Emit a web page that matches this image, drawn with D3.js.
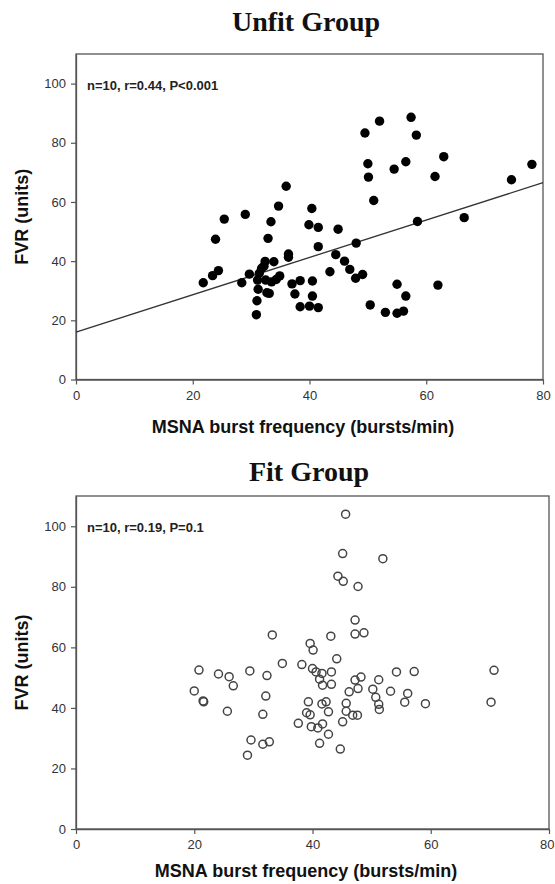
<!DOCTYPE html>
<html><head><meta charset="utf-8">
<script src="https://cdn.jsdelivr.net/npm/d3@7"></script>
<style>body{margin:0;background:#fff}svg{display:block}</style>
</head><body>
<script>
// ---- data ----
const unfitX = [49.5,52.0,57.4,58.3,50.0,50.1,54.5,56.5,63.0,61.5,51.0,74.6,78.1,40.4,39.9,41.5,44.9,58.5,66.5,41.5,48.0,36.0,34.7,29.0,25.4,33.4,23.9,32.9,21.8,23.4,24.4,28.4,29.7,30.9,31.0,32.4,33.9,36.4,36.4,37.0,38.4,37.5,38.4,31.8,31.4,32.2,32.5,33.5,34.3,34.9,31.1,31.2,32.7,33.1,44.5,46.0,46.9,43.5,47.9,49.1,40.5,40.5,40.0,41.5,50.4,53.0,55.0,56.5,55.0,56.1,62.0];
const unfitY = [83.3,87.3,88.6,82.6,72.9,68.4,71.1,73.6,75.3,68.6,60.5,67.5,72.7,57.8,52.3,51.4,50.8,53.4,54.7,44.9,46.1,65.3,58.6,55.8,54.2,53.3,47.4,47.7,32.7,35.1,36.8,32.7,35.6,21.9,26.6,39.9,39.8,42.4,41.3,32.3,33.4,28.9,24.6,37.6,35.9,38.3,33.6,33.0,33.8,35.0,33.6,30.5,29.3,29.1,42.2,40.0,37.2,36.4,34.2,35.5,33.3,28.2,24.8,24.3,25.2,22.7,32.2,28.2,22.4,23.1,31.9];
const unfitLineX = [0, 80];
const unfitLineY = [16.0, 66.5];

const fitX = [45.6,45.1,51.9,44.3,45.2,47.7,47.2,47.2,48.7,43.1,39.6,40.1,44.1,38.2,40.0,40.6,41.6,43.2,41.2,41.7,43.2,47.2,48.2,51.2,54.2,57.2,70.7,33.2,20.8,24.1,25.9,26.6,29.4,32.3,34.9,20.0,21.5,21.6,25.6,32.1,31.6,29.6,31.6,32.7,29.0,37.6,39.3,39.0,39.8,46.2,47.7,50.2,50.7,51.2,51.3,53.2,56.1,55.6,59.1,70.2,41.6,42.3,42.7,39.6,45.7,45.7,46.8,47.6,45.1,40.9,41.7,42.7,41.2,44.7];
const fitY = [104.0,91.0,89.3,83.5,81.8,80.1,69.0,64.4,64.8,63.7,61.3,59.1,56.2,54.3,53.0,51.9,51.4,51.9,49.5,47.5,47.8,49.2,50.2,49.3,51.9,52.0,52.4,64.1,52.5,51.2,50.3,47.3,52.2,50.7,54.7,45.6,42.3,42.0,38.9,43.9,37.9,29.4,28.0,28.8,24.4,34.9,42.0,38.4,33.8,45.3,46.4,46.2,43.5,41.2,39.5,45.5,44.8,41.9,41.4,41.9,41.3,42.0,38.7,37.7,41.5,38.9,37.6,37.6,35.4,33.4,34.7,31.3,28.3,26.4];

const xTicks = [0, 20, 40, 60, 80];
const yTicks = [0, 20, 40, 60, 80, 100];
const xDomain = [0, 80];
const yDomain = [0, 110];

const titles = ["Unfit Group", "Fit Group"];
const stats = ["n=10, r=0.44, P<0.001", "n=10, r=0.19, P=0.1"];
const xLabel = "MSNA burst frequency (bursts/min)";
const yLabel = "FVR (units)";

// ---- drawing ----
const svg = d3.select("body").append("svg").attr("width", 555).attr("height", 884);

function panel(cfg) {
  const x = d3.scaleLinear().domain(xDomain).range([cfg.left, cfg.right]);
  const y = d3.scaleLinear().domain(yDomain).range([cfg.bottom, cfg.top]);
  const g = svg.append("g");

  // title
  g.append("text").attr("x", cfg.titleX).attr("y", cfg.titleY)
    .attr("text-anchor", "middle")
    .style("font-family", "'Liberation Serif','Times New Roman',serif")
    .style("font-weight", "bold").style("font-size", "28px").attr("fill", "#111")
    .text(cfg.title);

  // frame
  g.append("rect").attr("x", cfg.left).attr("y", cfg.top)
    .attr("width", cfg.right - cfg.left).attr("height", cfg.bottom - cfg.top)
    .attr("fill", "none").attr("stroke", "#555").attr("stroke-width", 1.3);

  const axisStyle = sel => {
    sel.selectAll("path").attr("stroke", "#555").attr("stroke-width", 1.3);
    sel.selectAll("line").attr("stroke", "#555").attr("stroke-width", 1.2);
    sel.selectAll("text").style("font-family", "'Liberation Sans',Arial,sans-serif")
      .style("font-size", "13px").attr("fill", "#333");
  };
  const xa = g.append("g").attr("transform", `translate(0,${cfg.bottom})`)
    .call(d3.axisBottom(x).tickValues(xTicks).tickSize(5).tickPadding(6).tickSizeOuter(0))
    .call(axisStyle);
  // keep the last tick label inside the window
  xa.selectAll(".tick text").filter((d, i, n) => i === n.length - 1 && x(d) + 8 > 555)
    .attr("dx", 555 - 1 - (x(xDomain[1]) + 7.3));
  g.append("g").attr("transform", `translate(${cfg.left},0)`)
    .call(d3.axisLeft(y).tickValues(yTicks).tickSize(5).tickPadding(5).tickSizeOuter(0))
    .call(axisStyle);

  // axis labels
  g.append("text").attr("x", cfg.xLabelX).attr("y", cfg.xLabelY).attr("text-anchor", "middle")
    .style("font-family", "'Liberation Sans',Arial,sans-serif").style("font-weight", "bold")
    .style("font-size", "18px").attr("fill", "#111").text(xLabel);
  g.append("text").attr("transform", `translate(${cfg.yLabelX},${(cfg.top + cfg.bottom) / 2}) rotate(-90)`)
    .attr("text-anchor", "middle")
    .style("font-family", "'Liberation Sans',Arial,sans-serif").style("font-weight", "bold")
    .style("font-size", "18px").attr("fill", "#111").text(yLabel);

  // stats annotation
  g.append("text").attr("x", cfg.left + 11).attr("y", y(100) + 6)
    .style("font-family", "'Liberation Sans',Arial,sans-serif").style("font-weight", "bold")
    .style("font-size", "13px").attr("fill", "#222").text(cfg.stat);

  // regression line
  if (cfg.lineX) {
    const pts = cfg.lineX.map((v, i) => [v, cfg.lineY[i]]);
    g.append("path").datum(pts)
      .attr("d", d3.line().x(d => x(d[0])).y(d => y(d[1])))
      .attr("fill", "none").attr("stroke", "#333").attr("stroke-width", 1.3);
  }

  // points
  const data = cfg.xs.map((v, i) => [v, cfg.ys[i]]);
  g.append("g").selectAll("circle").data(data).join("circle")
    .attr("cx", d => x(d[0])).attr("cy", d => y(d[1]))
    .attr("r", cfg.filled ? 4.7 : 4.0)
    .attr("fill", cfg.filled ? "#000" : "none")
    .attr("stroke", cfg.filled ? "none" : "#444")
    .attr("stroke-width", cfg.filled ? 0 : 1.5);
}

panel({ title: titles[0], titleX: 306, titleY: 31, left: 76, right: 543, top: 54, bottom: 379.5,
  xLabelX: 303, xLabelY: 433, yLabelX: 28, stat: stats[0],
  xs: unfitX, ys: unfitY, filled: true, lineX: unfitLineX, lineY: unfitLineY });

panel({ title: titles[1], titleX: 309, titleY: 481, left: 76, right: 549, top: 496, bottom: 829,
  xLabelX: 306, xLabelY: 877, yLabelX: 28, stat: stats[1],
  xs: fitX, ys: fitY, filled: false });
</script>
</body></html>
